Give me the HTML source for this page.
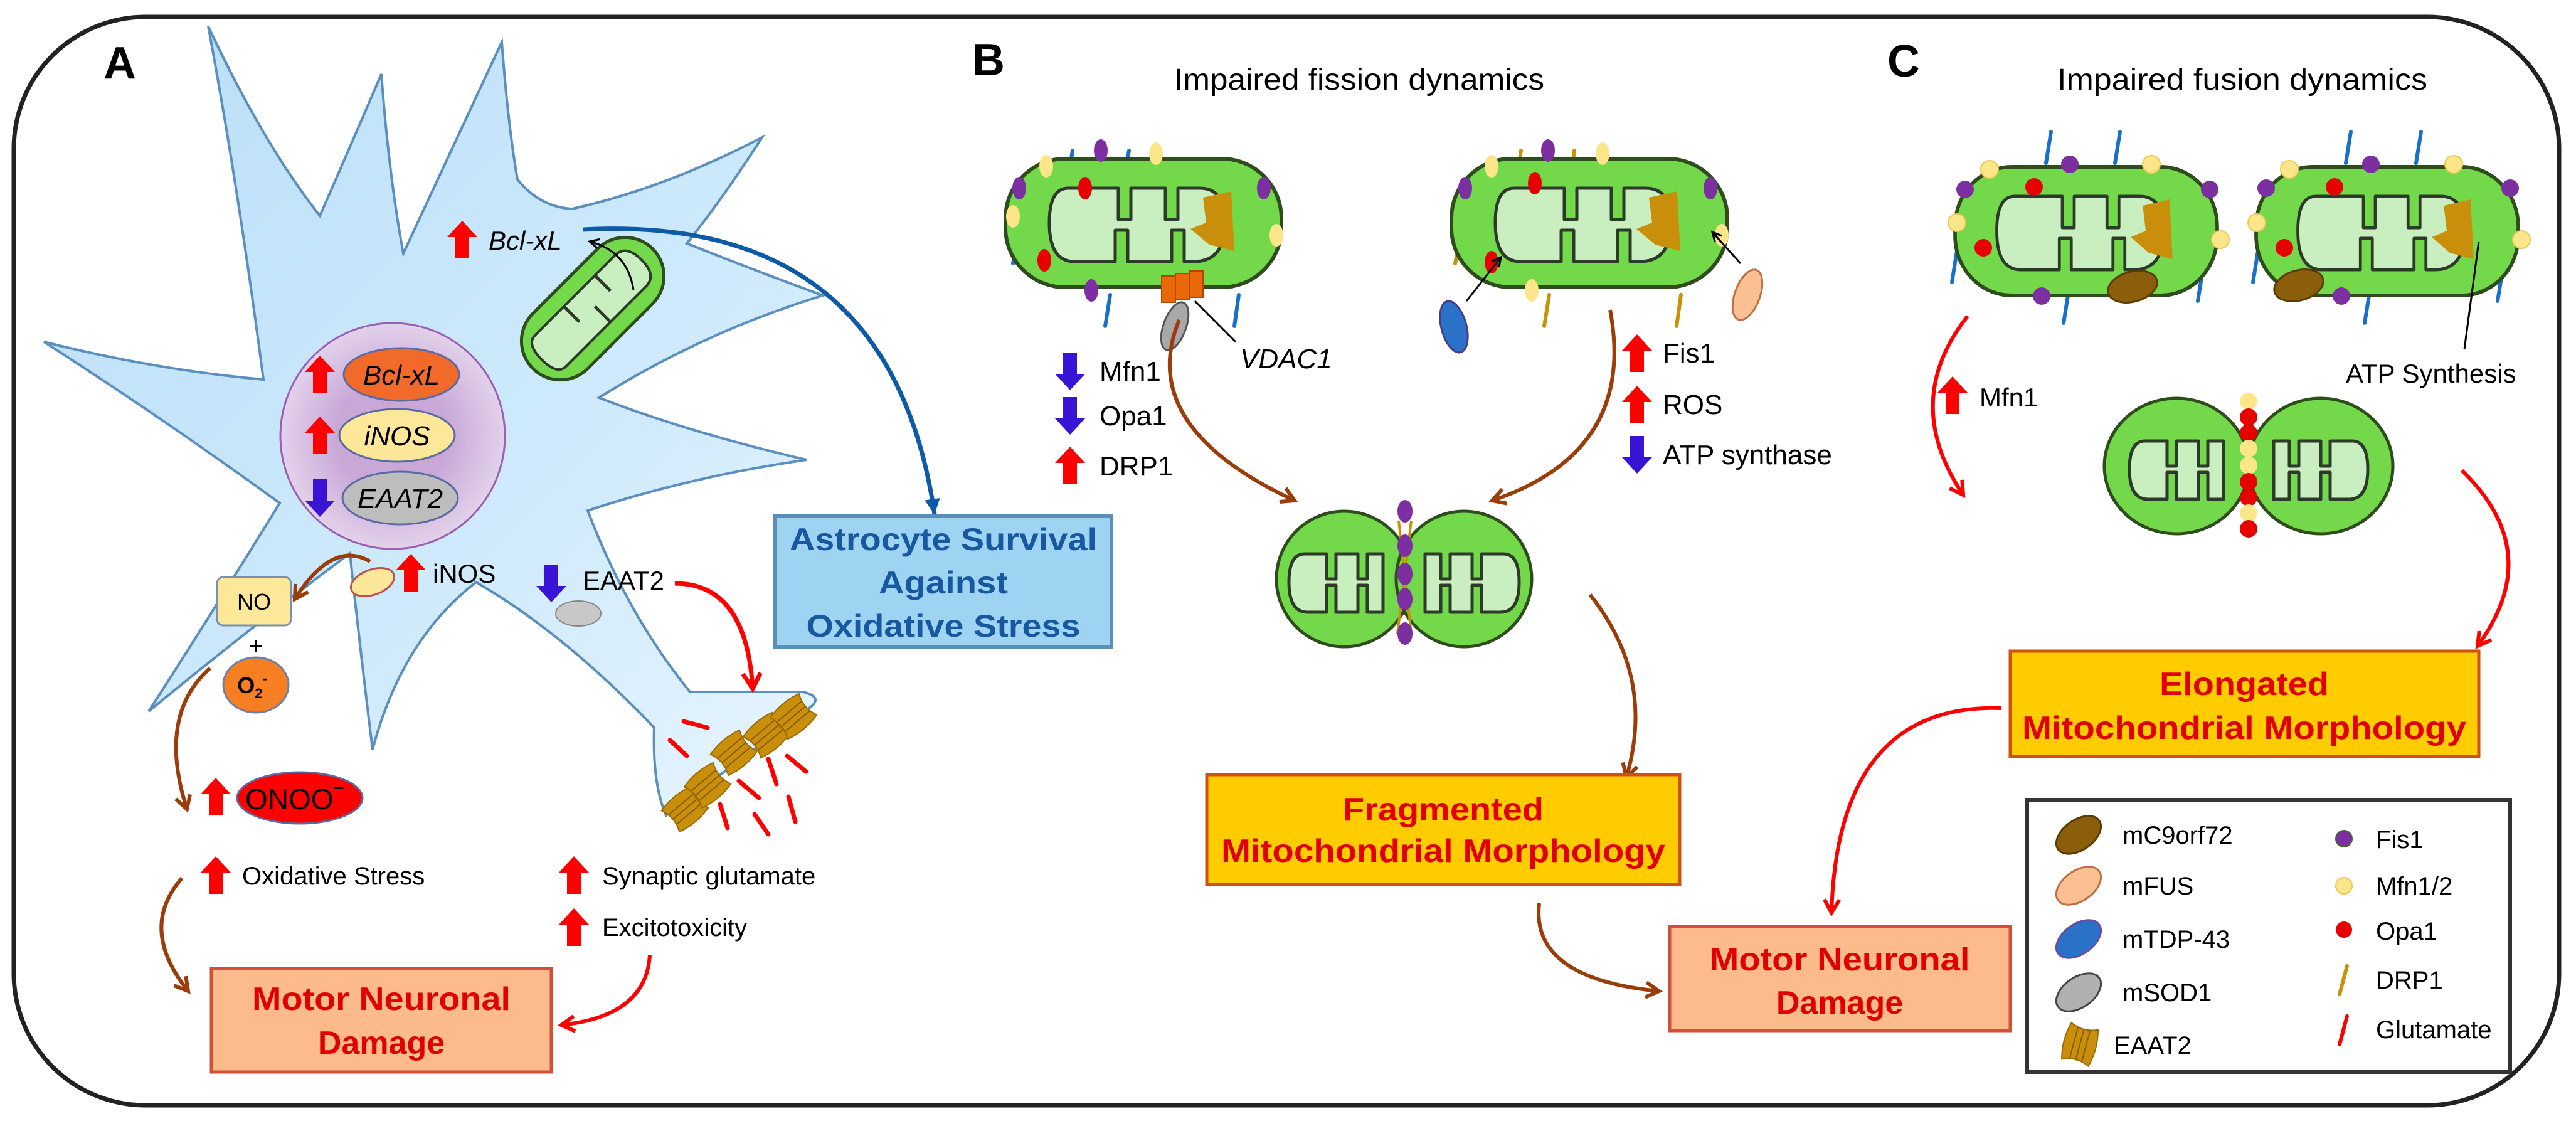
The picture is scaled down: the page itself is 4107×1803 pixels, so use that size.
<!DOCTYPE html>
<html><head><meta charset="utf-8"><style>
html,body{margin:0;padding:0;background:#fff;}
svg{display:block;}
text{font-family:"Liberation Sans",sans-serif;}
</style></head><body>
<svg width="4107" height="1803" viewBox="0 0 4107 1803" xmlns="http://www.w3.org/2000/svg">
<defs>
<linearGradient id="cellg" x1="0" y1="0" x2="1" y2="1">
<stop offset="0" stop-color="#b9def7"/><stop offset="0.6" stop-color="#cfeafc"/><stop offset="1" stop-color="#e8f5fe"/></linearGradient>
<radialGradient id="nucg"><stop offset="0.5" stop-color="#c9a8d8"/><stop offset="1" stop-color="#e2d2ea"/></radialGradient>
<marker id="mb" viewBox="0 0 20 20" refX="16" refY="10" markerWidth="5" markerHeight="5" orient="auto"><path d="M2,2 L16,10 L2,18" fill="none" stroke="#9b3d0a" stroke-width="4"/></marker>
<marker id="mr" viewBox="0 0 20 20" refX="16" refY="10" markerWidth="5" markerHeight="5" orient="auto"><path d="M2,2 L16,10 L2,18" fill="none" stroke="#f00" stroke-width="4"/></marker>
<marker id="mbl" viewBox="0 0 20 20" refX="16" refY="10" markerWidth="5" markerHeight="5" orient="auto"><path d="M2,3 L16,10 L2,17 Z" fill="#0d5aa6"/></marker>
<marker id="mk" viewBox="0 0 20 20" refX="16" refY="10" markerWidth="7" markerHeight="7" orient="auto"><path d="M2,3 L16,10 L2,17" fill="none" stroke="#000" stroke-width="3"/></marker>
<path id="up" d="M0,-30 L24,-4 H11 V30 H-11 V-4 H-24 Z" fill="#f00"/>
<path id="dn" d="M0,30 L24,4 H11 V-30 H-11 V4 H-24 Z" fill="#3a14d6"/>
<g id="crista"><path d="M-120,-55 Q-150,-55 -150,0 Q-150,62 -110,62 H-45 V12 H-25 V62 H45 V12 H65 V62 H80 Q130,62 130,0 Q130,-55 90,-55 H55 V-5 H35 V-55 H-20 V-5 H-40 V-55 Z" fill="#c9efc0" stroke="#2d3a2a" stroke-width="5" stroke-linejoin="round"/></g>
<g id="mito"><rect x="-220" y="-102" width="440" height="205" rx="95" fill="#74d94a" stroke="#2f4d1c" stroke-width="6"/><use href="#crista"/><path d="M95,-40 L140,-50 L145,45 L105,35 L75,10 L100,0 Z" fill="#c98f0a"/></g>
<g id="smallcr"><path d="M-70,-45 Q-95,-45 -95,0 Q-95,48 -65,48 H-35 V5 H-20 V48 H15 V5 H30 V48 H55 V-45 H30 V-5 H15 V-45 H-20 V-5 H-35 V-45 Z" fill="#c9efc0" stroke="#2d3a2a" stroke-width="5" stroke-linejoin="round"/></g>
<g id="eaat"><path d="M-22,-30 Q0,-20 22,-30 Q30,0 22,30 Q0,20 -22,30 Q-30,0 -22,-30Z" fill="#c98f0a" stroke="#9a6a05" stroke-width="2"/><path d="M-10,-25 V25 M0,-24 V24 M10,-25 V25" stroke="#8a5a00" stroke-width="2"/></g>
</defs>

<!-- outer border -->
<rect x="22" y="27" width="4058" height="1735" rx="210" fill="none" stroke="#222" stroke-width="7"/>

<!-- ===== Panel A ===== -->
<text x="165" y="125" font-size="72" font-weight="bold">A</text>
<path d="M332,42 Q420,230 510,344 Q560,230 608,118 Q620,280 643,404 Q720,240 800,67 Q810,200 825,286 Q860,330 912,333 Q1060,300 1215,219 Q1150,320 1095,388 Q1200,430 1312,471 Q1120,530 955,634 Q1100,690 1286,733 Q1100,760 937,814 Q1000,980 1100,1103 L1280,1103 Q1310,1110 1295,1125 L1062,1300 Q1040,1250 1043,1160 Q900,1010 759,928 Q640,1020 594,1195 Q570,1000 558,882 Q400,1000 237,1134 Q330,990 446,802 Q250,660 70,545 Q250,590 420,605 Q380,300 332,42 Z" fill="url(#cellg)" stroke="#5b8fc0" stroke-width="4"/>
<!-- nucleus -->
<ellipse cx="626" cy="695" rx="179" ry="180" fill="url(#nucg)" stroke="#9b5fb5" stroke-width="3"/>
<ellipse cx="640" cy="597" rx="92" ry="42" fill="#f26a2a" stroke="#5b6aa0" stroke-width="3"/>
<ellipse cx="633" cy="694" rx="92" ry="42" fill="#fde89a" stroke="#5b6aa0" stroke-width="3"/>
<ellipse cx="638" cy="794" rx="92" ry="42" fill="#bdbdbd" stroke="#5b6aa0" stroke-width="3"/>
<use href="#up" x="510" y="597"/><use href="#up" x="510" y="694"/><use href="#dn" x="510" y="794"/>
<text x="640" y="613" font-size="44" font-style="italic" text-anchor="middle">Bcl-xL</text>
<text x="633" y="710" font-size="44" font-style="italic" text-anchor="middle">iNOS</text>
<text x="638" y="810" font-size="44" font-style="italic" text-anchor="middle">EAAT2</text>
<!-- cell mito -->
<g transform="translate(945,492) rotate(-45)"><rect x="-135" y="-62" width="270" height="124" rx="62" fill="#74d94a" stroke="#2f4d1c" stroke-width="5"/><path d="M-95,-35 H85 Q110,-35 110,0 Q110,35 85,35 H-95 Q-115,35 -115,0 Q-115,-35 -95,-35Z" fill="#c9efc0" stroke="#2d3a2a" stroke-width="4"/><path d="M-30,-35 V0 M40,-35 V0 M5,35 V0" stroke="#2d3a2a" stroke-width="5"/></g>
<use href="#up" x="737" y="382"/>
<text x="779" y="398" font-size="42" font-style="italic">Bcl-xL</text>
<path d="M1010,462 Q1000,400 940,385" fill="none" stroke="#000" stroke-width="3" marker-end="url(#mk)"/>
<!-- blue curve -->
<path d="M930,366 Q1420,340 1490,820" fill="none" stroke="#0d5aa6" stroke-width="7" marker-end="url(#mbl)"/>
<rect x="1236" y="822" width="536" height="209" fill="#9fd3f2" stroke="#5a8fb8" stroke-width="6"/>
<g font-weight="bold" fill="#1758a0" font-size="50" text-anchor="middle">
<text x="1504" y="877" textLength="490" lengthAdjust="spacingAndGlyphs">Astrocyte Survival</text>
<text x="1504" y="946" textLength="206" lengthAdjust="spacingAndGlyphs">Against</text>
<text x="1504" y="1015" textLength="437" lengthAdjust="spacingAndGlyphs">Oxidative Stress</text>
</g>
<!-- iNOS / NO -->
<ellipse cx="594" cy="928" rx="36" ry="20" transform="rotate(-20 594 928)" fill="#fde89a" stroke="#c0504d" stroke-width="3"/>
<use href="#up" x="655" y="913"/>
<text x="690" y="929" font-size="42">iNOS</text>
<path d="M590,895 Q530,860 470,955" fill="none" stroke="#9b3d0a" stroke-width="6" marker-end="url(#mb)"/>
<rect x="346" y="920" width="118" height="77" rx="10" fill="#fde89a" stroke="#7b8fb0" stroke-width="3"/>
<text x="405" y="972" font-size="36" text-anchor="middle">NO</text>
<text x="408" y="1043" font-size="40" text-anchor="middle">+</text>
<ellipse cx="408" cy="1092" rx="52" ry="44" fill="#f77f22" stroke="#6d7fa8" stroke-width="3"/>
<text x="402" y="1105" font-size="36" font-weight="bold" text-anchor="middle">O<tspan font-size="22" dy="8">2</tspan><tspan font-size="22" dy="-24">-</tspan></text>
<!-- EAAT2 -->
<use href="#dn" x="879" y="930"/>
<ellipse cx="922" cy="978" rx="36" ry="20" fill="#c8c8c8" stroke="#888" stroke-width="2"/>
<text x="929" y="940" font-size="42">EAAT2</text>
<path d="M1076,930 Q1190,930 1200,1098" fill="none" stroke="#f00" stroke-width="7" marker-end="url(#mr)"/>
<!-- transporters & glutamate -->
<use href="#eaat" transform="translate(1092,1290) rotate(50)"/>
<use href="#eaat" transform="translate(1128,1252) rotate(50)"/>
<use href="#eaat" transform="translate(1170,1200) rotate(50)"/>
<use href="#eaat" transform="translate(1222,1172) rotate(50)"/>
<use href="#eaat" transform="translate(1265,1142) rotate(50)"/>
<g stroke="#f00" stroke-width="7" stroke-linecap="round">
<path d="M1090,1150 L1128,1160"/><path d="M1068,1180 L1095,1205"/><path d="M1178,1245 L1210,1272"/><path d="M1225,1210 L1238,1250"/><path d="M1255,1205 L1285,1230"/><path d="M1148,1282 L1160,1320"/><path d="M1203,1298 L1225,1330"/><path d="M1257,1270 L1268,1310"/>
</g>
<!-- ONOO -->
<path d="M335,1065 Q250,1140 298,1290" fill="none" stroke="#9b3d0a" stroke-width="6" marker-end="url(#mb)"/>
<use href="#up" x="344" y="1270"/>
<ellipse cx="478" cy="1272" rx="100" ry="41" fill="#f00" stroke="#5b6aa0" stroke-width="3"/>
<text x="470" y="1290" font-size="46" text-anchor="middle">ONOO<tspan font-size="30" dy="-24">−</tspan></text>
<use href="#up" x="344" y="1395"/>
<text x="386" y="1410" font-size="40">Oxidative Stress</text>
<use href="#up" x="915" y="1395"/>
<text x="960" y="1410" font-size="40">Synaptic glutamate</text>
<use href="#up" x="915" y="1478"/>
<text x="960" y="1492" font-size="40">Excitotoxicity</text>
<path d="M290,1400 Q220,1480 300,1580" fill="none" stroke="#9b3d0a" stroke-width="6" marker-end="url(#mb)"/>
<path d="M1036,1523 Q1030,1620 895,1634" fill="none" stroke="#f00" stroke-width="6" marker-end="url(#mr)"/>
<rect x="337" y="1544" width="542" height="165" fill="#fdbb8c" stroke="#d0503a" stroke-width="5"/>
<g font-weight="bold" fill="#e00000" font-size="52" text-anchor="middle">
<text x="608" y="1610" textLength="412" lengthAdjust="spacingAndGlyphs">Motor Neuronal</text>
<text x="608" y="1680">Damage</text></g>

<!-- ===== Panel B ===== -->
<text x="1550" y="120" font-size="72" font-weight="bold">B</text>
<text x="2167" y="143" font-size="48" text-anchor="middle" textLength="590" lengthAdjust="spacingAndGlyphs">Impaired fission dynamics</text>
<g stroke="#1a6fc8" stroke-width="6" stroke-linecap="round">
<path d="M1710,240 L1702,290"/><path d="M1800,240 L1792,290"/><path d="M1625,370 L1615,420"/><path d="M1975,470 L1968,520"/><path d="M1770,470 L1762,520"/>
</g>
<use href="#mito" x="1823" y="355"/>
<g fill="#7b2fa0"><ellipse cx="1625" cy="300" rx="11" ry="18"/><ellipse cx="1755" cy="240" rx="11" ry="18"/><ellipse cx="2015" cy="300" rx="11" ry="18"/><ellipse cx="1740" cy="463" rx="11" ry="18"/></g>
<g fill="#fde58a"><ellipse cx="1625" cy="415" rx="11" ry="18" transform="translate(-10 -70)"/><ellipse cx="1668" cy="265" rx="11" ry="18"/><ellipse cx="1843" cy="245" rx="11" ry="18"/><ellipse cx="2035" cy="375" rx="11" ry="18"/></g>
<g fill="#e60000"><ellipse cx="1730" cy="300" rx="11" ry="18"/><ellipse cx="1665" cy="415" rx="11" ry="18"/></g>
<g fill="#e8680a" stroke="#b04800" stroke-width="2"><rect x="1852" y="440" width="22" height="42"/><rect x="1874" y="436" width="22" height="42"/><rect x="1896" y="432" width="22" height="42"/></g>
<ellipse cx="1873" cy="520" rx="18" ry="40" transform="rotate(20 1873 520)" fill="#a8a8a8" stroke="#555" stroke-width="3"/>
<path d="M1905,480 L1970,545" stroke="#000" stroke-width="3"/>
<text x="1977" y="587" font-size="44" font-style="italic">VDAC1</text>

<g stroke="#c8920a" stroke-width="6" stroke-linecap="round">
<path d="M2425,240 L2418,290"/><path d="M2510,240 L2503,290"/><path d="M2330,370 L2320,420"/><path d="M2680,470 L2673,520"/><path d="M2470,470 L2462,520"/>
</g>
<use href="#mito" x="2534" y="355"/>
<g fill="#7b2fa0"><ellipse cx="2336" cy="300" rx="11" ry="18"/><ellipse cx="2468" cy="240" rx="11" ry="18"/><ellipse cx="2727" cy="300" rx="11" ry="18"/></g>
<g fill="#fde58a"><ellipse cx="2378" cy="265" rx="11" ry="18"/><ellipse cx="2555" cy="245" rx="11" ry="18"/><ellipse cx="2745" cy="375" rx="11" ry="18"/><ellipse cx="2442" cy="463" rx="11" ry="18"/></g>
<g fill="#e60000"><ellipse cx="2447" cy="292" rx="11" ry="18"/><ellipse cx="2378" cy="418" rx="11" ry="18"/></g>
<ellipse cx="2318" cy="521" rx="20" ry="42" transform="rotate(-15 2318 521)" fill="#2a72c8" stroke="#4a3a8a" stroke-width="3"/>
<path d="M2338,480 L2393,410" stroke="#000" stroke-width="3" marker-end="url(#mk)"/>
<ellipse cx="2786" cy="470" rx="20" ry="42" transform="rotate(20 2786 470)" fill="#fbbf94" stroke="#c07040" stroke-width="3"/>
<path d="M2775,420 L2730,370" stroke="#000" stroke-width="3" marker-end="url(#mk)"/>

<use href="#dn" x="1706" y="592"/><text x="1753" y="607" font-size="44">Mfn1</text>
<use href="#dn" x="1706" y="663"/><text x="1753" y="678" font-size="44">Opa1</text>
<use href="#up" x="1706" y="742"/><text x="1753" y="758" font-size="44">DRP1</text>
<use href="#up" x="2610" y="563"/><text x="2651" y="578" font-size="44">Fis1</text>
<use href="#up" x="2610" y="645"/><text x="2651" y="660" font-size="44">ROS</text>
<use href="#dn" x="2610" y="725"/><text x="2651" y="740" font-size="44">ATP synthase</text>
<path d="M1880,510 Q1810,680 2064,798" fill="none" stroke="#9b3d0a" stroke-width="6" marker-end="url(#mb)"/>
<path d="M2567,494 Q2610,720 2379,798" fill="none" stroke="#9b3d0a" stroke-width="6" marker-end="url(#mb)"/>
<!-- fragmented mito -->
<ellipse cx="2143" cy="923" rx="108" ry="108" fill="#74d94a" stroke="#2f4d1c" stroke-width="5"/>
<ellipse cx="2334" cy="923" rx="108" ry="108" fill="#74d94a" stroke="#2f4d1c" stroke-width="5"/>
<use href="#smallcr" x="2150" y="928"/>
<use href="#smallcr" transform="translate(2327 928) scale(-1 1)"/>
<g stroke="#c8920a" stroke-width="4"><path d="M2230,830 L2250,1010"/><path d="M2250,830 L2228,1010"/></g>
<g fill="#7b2fa0"><ellipse cx="2240" cy="815" rx="12" ry="18"/><ellipse cx="2240" cy="870" rx="12" ry="18"/><ellipse cx="2240" cy="915" rx="12" ry="18"/><ellipse cx="2240" cy="955" rx="12" ry="18"/><ellipse cx="2240" cy="1010" rx="12" ry="18"/></g>
<path d="M2535,948 Q2640,1080 2593,1239" fill="none" stroke="#9b3d0a" stroke-width="6" marker-end="url(#mb)"/>
<rect x="1924" y="1235" width="754" height="175" fill="#ffcc00" stroke="#d05010" stroke-width="5"/>
<g font-weight="bold" fill="#e00000" font-size="52" text-anchor="middle">
<text x="2301" y="1308" textLength="320" lengthAdjust="spacingAndGlyphs">Fragmented</text>
<text x="2301" y="1374" textLength="708" lengthAdjust="spacingAndGlyphs">Mitochondrial Morphology</text></g>
<path d="M2454,1440 Q2440,1560 2645,1580" fill="none" stroke="#9b3d0a" stroke-width="6" marker-end="url(#mb)"/>
<rect x="2662" y="1477" width="543" height="166" fill="#fdbb8c" stroke="#d0503a" stroke-width="5"/>
<g font-weight="bold" fill="#e00000" font-size="52" text-anchor="middle">
<text x="2933" y="1547" textLength="415" lengthAdjust="spacingAndGlyphs">Motor Neuronal</text>
<text x="2933" y="1616">Damage</text></g>

<!-- ===== Panel C ===== -->
<text x="3009" y="122" font-size="72" font-weight="bold">C</text>
<text x="3575" y="143" font-size="48" text-anchor="middle" textLength="590" lengthAdjust="spacingAndGlyphs">Impaired fusion dynamics</text>
<g stroke="#1a6fc8" stroke-width="6" stroke-linecap="round">
<path d="M3270,210 L3262,260"/><path d="M3380,210 L3372,260"/><path d="M3120,400 L3112,450"/><path d="M3512,430 L3504,480"/><path d="M3298,465 L3290,515"/>
<path d="M3748,210 L3740,260"/><path d="M3860,210 L3852,260"/><path d="M3600,400 L3592,450"/><path d="M3990,430 L3982,480"/><path d="M3778,465 L3770,515"/>
</g>
<use href="#mito" transform="translate(3326 368) scale(0.95 1)"/>
<use href="#mito" transform="translate(3806 368) scale(0.95 1)"/>
<g fill="#7b2fa0"><circle cx="3133" cy="302" r="14"/><circle cx="3300" cy="262" r="14"/><circle cx="3523" cy="302" r="14"/><circle cx="3255" cy="472" r="14"/>
<circle cx="3613" cy="300" r="14"/><circle cx="3780" cy="262" r="14"/><circle cx="4002" cy="300" r="14"/><circle cx="3733" cy="472" r="14"/></g>
<g fill="#fde58a" stroke="#e8c850" stroke-width="2"><circle cx="3172" cy="270" r="14"/><circle cx="3430" cy="262" r="14"/><circle cx="3120" cy="355" r="14"/><circle cx="3540" cy="382" r="14"/>
<circle cx="3650" cy="270" r="14"/><circle cx="3912" cy="262" r="14"/><circle cx="3598" cy="355" r="14"/><circle cx="4020" cy="382" r="14"/></g>
<g fill="#e60000"><circle cx="3243" cy="298" r="14"/><circle cx="3162" cy="395" r="14"/><circle cx="3722" cy="298" r="14"/><circle cx="3642" cy="395" r="14"/></g>
<ellipse cx="3400" cy="457" rx="40" ry="24" transform="rotate(-15 3400 457)" fill="#8a5e0a" stroke="#5a3c00" stroke-width="3"/>
<ellipse cx="3665" cy="455" rx="40" ry="24" transform="rotate(-15 3665 455)" fill="#8a5e0a" stroke="#5a3c00" stroke-width="3"/>
<path d="M3952,385 L3929,557" stroke="#000" stroke-width="3"/>
<text x="3740" y="610" font-size="42">ATP Synthesis</text>
<path d="M3137,504 Q3030,640 3130,789" fill="none" stroke="#f00" stroke-width="6" marker-end="url(#mr)"/>
<use href="#up" x="3113" y="630"/><text x="3156" y="648" font-size="42">Mfn1</text>
<!-- fused mito -->
<ellipse cx="3470" cy="743" rx="115" ry="108" fill="#74d94a" stroke="#2f4d1c" stroke-width="5"/>
<ellipse cx="3700" cy="743" rx="115" ry="108" fill="#74d94a" stroke="#2f4d1c" stroke-width="5"/>
<use href="#smallcr" x="3490" y="748"/>
<use href="#smallcr" transform="translate(3680 748) scale(-1 1)"/>
<g><circle cx="3585" cy="640" r="14" fill="#fde58a"/><circle cx="3585" cy="665" r="14" fill="#e60000"/><circle cx="3585" cy="690" r="14" fill="#e60000"/><circle cx="3585" cy="715" r="14" fill="#fde58a"/><circle cx="3585" cy="742" r="14" fill="#fde58a"/><circle cx="3585" cy="768" r="14" fill="#e60000"/><circle cx="3585" cy="793" r="14" fill="#e60000"/><circle cx="3585" cy="818" r="14" fill="#fde58a"/><circle cx="3585" cy="843" r="14" fill="#e60000"/></g>
<path d="M3925,750 Q4060,880 3950,1030" fill="none" stroke="#f00" stroke-width="6" marker-end="url(#mr)"/>
<rect x="3205" y="1038" width="747" height="168" fill="#ffcc00" stroke="#d05010" stroke-width="5"/>
<g font-weight="bold" fill="#e00000" font-size="52" text-anchor="middle">
<text x="3578" y="1108" textLength="270" lengthAdjust="spacingAndGlyphs">Elongated</text>
<text x="3578" y="1178" textLength="708" lengthAdjust="spacingAndGlyphs">Mitochondrial Morphology</text></g>
<path d="M3191,1129 Q2930,1120 2920,1455" fill="none" stroke="#f00" stroke-width="6" marker-end="url(#mr)"/>
<!-- legend -->
<rect x="3232" y="1275" width="770" height="434" fill="#fff" stroke="#333" stroke-width="6"/>
<ellipse cx="3314" cy="1331" rx="40" ry="24" transform="rotate(-35 3314 1331)" fill="#8a5e0a" stroke="#5a3c00" stroke-width="3"/>
<ellipse cx="3314" cy="1412" rx="40" ry="24" transform="rotate(-35 3314 1412)" fill="#fbbf94" stroke="#c07040" stroke-width="3"/>
<ellipse cx="3314" cy="1497" rx="40" ry="24" transform="rotate(-35 3314 1497)" fill="#2a72c8" stroke="#6a4aa8" stroke-width="3"/>
<ellipse cx="3314" cy="1582" rx="40" ry="24" transform="rotate(-35 3314 1582)" fill="#b0b0b0" stroke="#444" stroke-width="3"/>
<use href="#eaat" transform="translate(3316 1665) rotate(15)"/>
<g font-size="40">
<text x="3384" y="1345">mC9orf72</text><text x="3384" y="1426">mFUS</text><text x="3384" y="1511">mTDP-43</text><text x="3384" y="1596">mSOD1</text><text x="3370" y="1680">EAAT2</text>
<text x="3788" y="1352">Fis1</text><text x="3788" y="1426">Mfn1/2</text><text x="3788" y="1498">Opa1</text><text x="3788" y="1576">DRP1</text><text x="3788" y="1655">Glutamate</text></g>
<circle cx="3737" cy="1337" r="13" fill="#7b2fa0" stroke="#3a6a2a" stroke-width="2"/>
<circle cx="3737" cy="1412" r="13" fill="#fde58a" stroke="#e8c850" stroke-width="2"/>
<circle cx="3737" cy="1482" r="13" fill="#e60000"/>
<path d="M3742,1540 L3730,1585" stroke="#c8920a" stroke-width="6" stroke-linecap="round"/>
<path d="M3742,1620 L3730,1665" stroke="#f00" stroke-width="6" stroke-linecap="round"/>
</svg>
</body></html>
